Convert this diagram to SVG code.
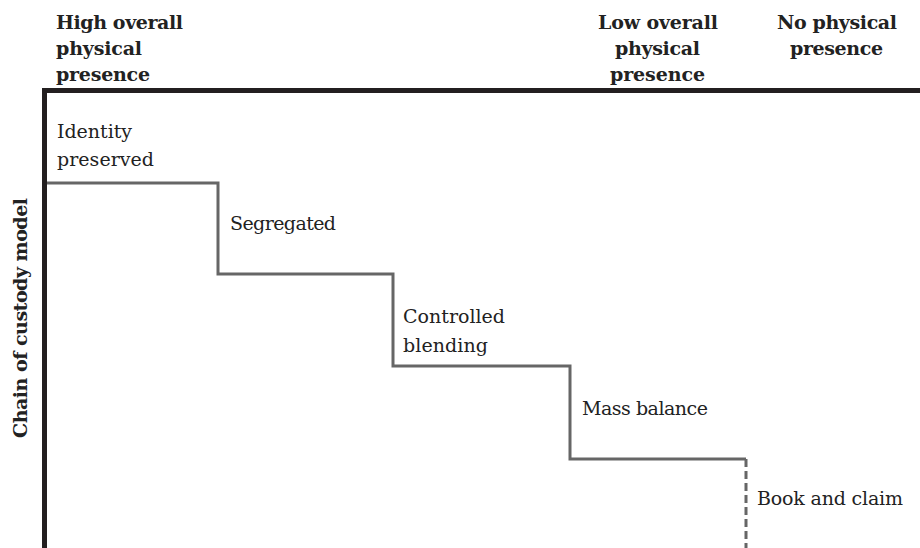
<svg xmlns="http://www.w3.org/2000/svg" width="920" height="548" viewBox="0 0 920 548">
<style>
.t{font-family:"DejaVu Serif","Liberation Serif",serif;font-size:19px;fill:#222}
.b{font-family:"DejaVu Serif","Liberation Serif",serif;font-size:19px;font-weight:bold;fill:#222}
.axis{stroke:#231f20;stroke-width:5;fill:none}
.step{stroke:#666;stroke-width:3;fill:none}
.dash{stroke:#666;stroke-width:3;fill:none;stroke-dasharray:8,4}
</style>
<rect width="920" height="548" fill="#fff"/>
<g id="axes">
<path class="axis" d="M44.5,548 V90.5 H920"/>
</g>
<g id="header-high">
<text class="b" x="56" y="29" textLength="127">High overall</text>
<text class="b" x="56" y="55" textLength="86">physical</text>
<text class="b" x="56" y="81" textLength="94">presence</text>
</g>
<g id="header-low">
<text class="b" x="598" y="29" textLength="120">Low overall</text>
<text class="b" x="615" y="55" textLength="85">physical</text>
<text class="b" x="610" y="81" textLength="95">presence</text>
</g>
<g id="header-none">
<text class="b" x="777" y="29" textLength="120">No physical</text>
<text class="b" x="790" y="55" textLength="93">presence</text>
</g>
<g id="y-label">
<text class="b" transform="translate(27,318) rotate(-90)" text-anchor="middle" textLength="240">Chain of custody model</text>
</g>
<g id="connectors">
<path class="step" d="M47,183 H218 V274 H393 V366 H570 V459 H746"/>
<path class="dash" d="M746,459 V548"/>
</g>
<g id="identity-preserved">
<text class="t" x="57" y="138" textLength="75">Identity</text>
<text class="t" x="57" y="166" textLength="97">preserved</text>
</g>
<g id="segregated">
<text class="t" x="230" y="230" textLength="106">Segregated</text>
</g>
<g id="controlled-blending">
<text class="t" x="403" y="323" textLength="102">Controlled</text>
<text class="t" x="403" y="352" textLength="85">blending</text>
</g>
<g id="mass-balance">
<text class="t" x="582" y="415" textLength="126">Mass balance</text>
</g>
<g id="book-and-claim">
<text class="t" x="757" y="505" textLength="146">Book and claim</text>
</g>
</svg>
